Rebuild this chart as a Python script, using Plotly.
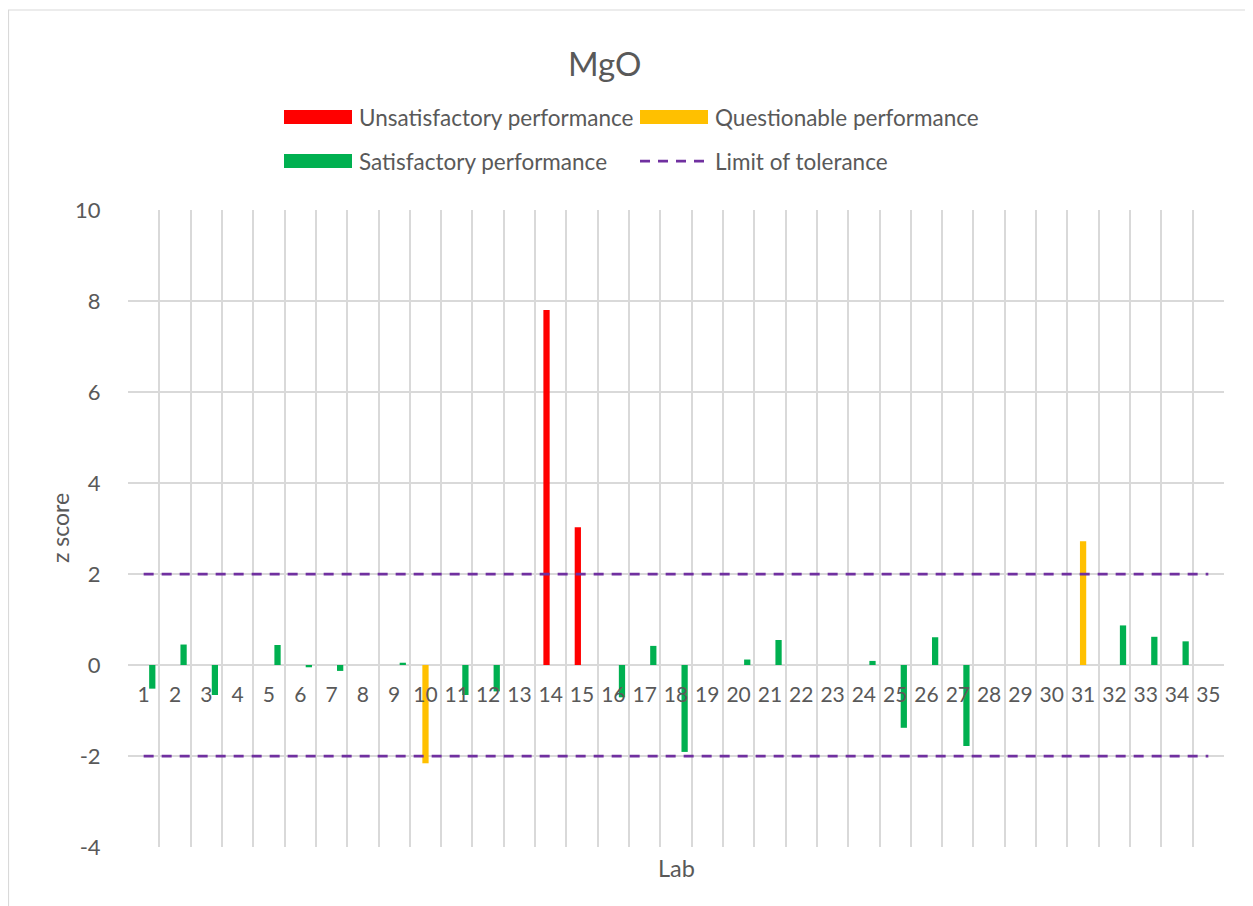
import plotly.graph_objects as go

# z scores per lab (None = no result)
labs = list(range(1, 36))
z_scores = [-0.52, 0.45, -0.66, None, 0.44, -0.05, -0.13, None, 0.05, -2.16,
            -0.66, -0.58, None, 7.80, 3.03, -0.71, 0.42, -1.91, None, 0.12,
            0.55, None, None, 0.09, -1.38, 0.61, -1.78, None, None, None,
            2.72, 0.87, 0.62, 0.52, None]
tolerance = 2
y_ticks = [-4, -2, 0, 2, 4, 6, 8, 10]
y_tick_text = ["-4", "-2", "0", "2", "4", "6", "8", "10"]

series_names = ["Unsatisfactory performance", "Questionable performance",
                "Satisfactory performance"]
series_colors = ["#FF0000", "#FFC000", "#00B050"]


def classify(z):
    if z is None:
        return None
    a = abs(z)
    if a >= 3:
        return 0
    if a > 2:
        return 1
    return 2


groups = [classify(z) for z in z_scores]

# screen geometry (page body adds an 8px margin)
SCREEN_W, SCREEN_H, OFF = 1253, 906, 8
L, R, T, B = 128, 1224, 210, 847
FONT = "Lato"
GREY = "#595959"
GRID = "#D9D9D9"


def px(x):
    return (x - L) / (R - L)


def py(y):
    return (B - y) / (B - T)


fig = go.Figure()

# bar slot offsets inside each category (width in category units)
bar_w = 0.2
slot_center = [-0.135, 0.0, 0.275]
for k in range(3):
    ys = [z if g == k else None for z, g in zip(z_scores, groups)]
    fig.add_trace(go.Bar(
        x=labs, y=ys, width=bar_w, offset=slot_center[k] - bar_w / 2,
        marker=dict(color=series_colors[k], line=dict(width=0)),
        name=series_names[k], showlegend=False,
    ))

for lim in (tolerance, -tolerance):
    fig.add_trace(go.Scatter(
        x=[labs[0], labs[-1]], y=[lim, lim], mode="lines",
        line=dict(color="#7030A0", width=2.75, dash="10px,8px"),
        name="Limit of tolerance", showlegend=False, hoverinfo="skip",
    ))

# category labels sit next to the zero line
fig.add_trace(go.Scatter(
    x=labs, y=[-0.7] * len(labs), mode="text", text=[str(l) for l in labs],
    textfont=dict(family=FONT, size=21, color=GREY),
    showlegend=False, hoverinfo="skip",
))

fig.update_layout(
    width=SCREEN_W - OFF, height=SCREEN_H - OFF,
    margin=dict(l=L - OFF, r=SCREEN_W - R, t=T - OFF, b=SCREEN_H - B, pad=0),
    paper_bgcolor="white", plot_bgcolor="white",
    barmode="overlay",
    font=dict(family=FONT, color=GREY),
    xaxis=dict(
        range=[0.5, 35.5], tickvals=[l - 0.5 for l in labs] + [35.5],
        showticklabels=False, showgrid=True, gridcolor=GRID, gridwidth=1.5,
        zeroline=False, showline=False, ticks="",
    ),
    yaxis=dict(
        range=[-4, 10], tickvals=y_ticks, ticktext=y_tick_text,
        showgrid=True, gridcolor=GRID,
        gridwidth=1.5, zeroline=False, showline=False, ticks="outside",
        ticklen=0, ticklabelstandoff=22,
        tickfont=dict(family=FONT, size=22, color=GREY),
    ),
)

annotations = [
    dict(text="MgO", x=px(604), y=py(63), font=dict(size=33)),
    dict(text="Lab", x=0.5, y=py(868), font=dict(size=23.5)),
    dict(text="z score", x=px(60), y=py(528), textangle=-90, font=dict(size=23)),
]

shapes = [
    # chart area border
    dict(type="rect", xref="paper", yref="paper", x0=px(OFF + 0.5), x1=px(1300),
         y0=py(950), y1=py(10), line=dict(color=GRID, width=1.2),
         fillcolor="rgba(0,0,0,0)", layer="below"),
]

# legend laid out by hand: two columns, two rows
legend_items = [
    (series_names[0], series_colors[0], 284, 117, "bar"),
    (series_names[1], series_colors[1], 640, 117, "bar"),
    (series_names[2], series_colors[2], 284, 161, "bar"),
    ("Limit of tolerance", "#7030A0", 640, 161, "line"),
]
for name, color, x0, yc, kind in legend_items:
    if kind == "bar":
        shapes.append(dict(type="rect", xref="paper", yref="paper",
                           x0=px(x0), x1=px(x0 + 68), y0=py(yc + 7), y1=py(yc - 7),
                           fillcolor=color, line=dict(width=0)))
    else:
        shapes.append(dict(type="line", xref="paper", yref="paper",
                           x0=px(x0), x1=px(x0 + 68), y0=py(yc), y1=py(yc),
                           line=dict(color=color, width=2.75, dash="10px,8px")))
    annotations.append(dict(text=name, x=px(x0 + 73), y=py(yc), xanchor="left",
                            font=dict(size=22.5)))

for a in annotations:
    a.setdefault("xref", "paper")
    a.setdefault("yref", "paper")
    a.setdefault("showarrow", False)
    a.setdefault("yanchor", "middle")
    a.setdefault("xanchor", "center")
    a["font"] = dict(family=FONT, color=GREY, **a["font"])

fig.update_layout(annotations=annotations, shapes=shapes)

fig.write_html("out.html")
